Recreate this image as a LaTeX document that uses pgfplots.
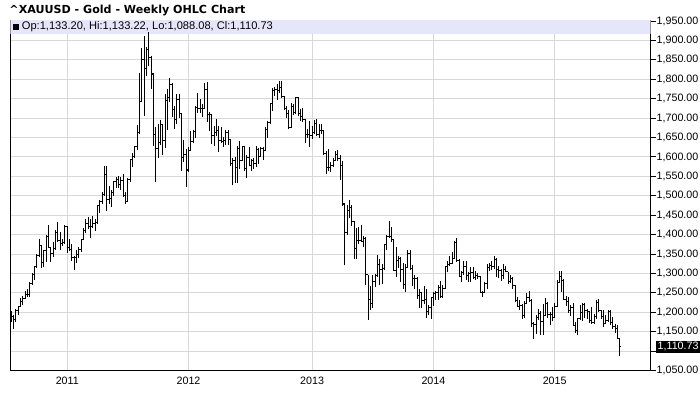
\documentclass[border=0pt]{standalone}
\usepackage{fontspec}
\setmainfont{Liberation Sans}
\newfontfamily\titlefont{DejaVu Sans}
\usepackage{pgfplots}
\usepackage{pgfplotstable}
\pgfplotsset{compat=1.18}
\definecolor{gridgray}{RGB}{216,216,216}
\definecolor{bandcol}{RGB}{230,230,250}
\pgfdeclareplotmark{ohlcopen}{\pgfpathmoveto{\pgfqpoint{-\pgfplotmarksize}{0pt}}\pgfpathlineto{\pgfqpoint{0pt}{0pt}}\pgfusepathqstroke}
\pgfdeclareplotmark{ohlcclose}{\pgfpathmoveto{\pgfqpoint{0pt}{0pt}}\pgfpathlineto{\pgfqpoint{\pgfplotmarksize}{0pt}}\pgfusepathqstroke}
\pgfplotstableread{
i O H L C
0 1193 1203 1176 1189
1 1189 1193 1157 1181
2 1181 1208 1175 1204
3 1204 1216 1192 1215
4 1215 1238 1214 1228
5 1228 1242 1220 1235
6 1235 1255 1235 1246
7 1246 1259 1239 1246
8 1246 1278 1240 1275
9 1275 1300 1270 1297
10 1297 1318 1284 1318
11 1318 1349 1313 1346
12 1346 1388 1345 1372
13 1372 1373 1314 1327
14 1327 1360 1317 1358
15 1358 1398 1330 1395
16 1395 1424 1365 1367
17 1367 1369 1330 1352
18 1352 1380 1342 1363
19 1363 1413 1360 1405
20 1405 1432 1381 1385
21 1385 1406 1360 1378
22 1378 1390 1371 1380
23 1380 1424 1376 1421
24 1421 1423 1352 1368
25 1368 1390 1358 1361
26 1361 1375 1333 1342
27 1342 1345 1309 1340
28 1340 1360 1328 1348
29 1348 1369 1340 1361
30 1361 1390 1355 1388
31 1388 1417 1385 1410
32 1410 1440 1405 1429
33 1429 1445 1415 1421
34 1421 1440 1392 1420
35 1420 1448 1418 1428
36 1428 1440 1410 1430
37 1430 1476 1428 1474
38 1474 1490 1455 1486
39 1486 1510 1480 1503
40 1503 1576 1500 1556
41 1556 1577 1462 1491
42 1491 1524 1480 1492
43 1492 1516 1470 1509
44 1509 1538 1500 1536
45 1536 1548 1520 1542
46 1542 1550 1520 1529
47 1529 1549 1515 1539
48 1539 1557 1496 1500
49 1500 1509 1478 1486
50 1486 1545 1483 1542
51 1542 1595 1535 1594
52 1594 1611 1575 1601
53 1601 1629 1600 1628
54 1628 1683 1617 1662
55 1662 1815 1660 1744
56 1744 1881 1742 1852
57 1852 1912 1705 1828
58 1828 1883 1809 1878
59 1878 1921 1835 1857
60 1857 1860 1776 1814
61 1812 1815 1627 1657
62 1657 1676 1535 1622
63 1622 1685 1598 1636
64 1636 1696 1630 1683
65 1683 1686 1605 1642
66 1642 1761 1622 1746
67 1746 1774 1670 1752
68 1752 1803 1742 1786
69 1786 1790 1703 1722
70 1722 1730 1673 1696
71 1696 1762 1685 1747
72 1747 1762 1701 1712
73 1712 1713 1563 1598
74 1598 1644 1588 1606
75 1606 1620 1523 1565
76 1567 1626 1562 1616
77 1616 1666 1616 1639
78 1639 1670 1636 1665
79 1665 1730 1650 1727
80 1727 1764 1714 1725
81 1725 1750 1712 1724
82 1724 1736 1704 1726
83 1726 1790 1725 1774
84 1774 1792 1691 1710
85 1710 1717 1667 1709
86 1709 1710 1634 1656
87 1656 1680 1627 1662
88 1662 1697 1655 1668
89 1668 1679 1612 1642
90 1642 1678 1636 1641
91 1641 1652 1625 1642
92 1642 1670 1632 1664
93 1664 1670 1632 1644
94 1644 1645 1578 1584
95 1584 1597 1527 1591
96 1591 1600 1532 1572
97 1572 1627 1533 1622
98 1622 1640 1570 1592
99 1592 1628 1590 1626
100 1626 1628 1563 1571
101 1571 1605 1547 1598
102 1598 1626 1577 1579
103 1579 1596 1564 1590
104 1590 1598 1568 1582
105 1582 1627 1575 1619
106 1619 1624 1582 1602
107 1602 1626 1600 1621
108 1621 1625 1591 1616
109 1616 1676 1616 1671
110 1671 1693 1650 1689
111 1689 1740 1684 1738
112 1738 1777 1718 1771
113 1771 1780 1756 1774
114 1774 1787 1748 1772
115 1772 1796 1766 1780
116 1780 1795 1753 1757
117 1757 1757 1721 1724
118 1724 1731 1700 1712
119 1712 1722 1672 1677
120 1677 1740 1674 1730
121 1730 1737 1709 1714
122 1714 1754 1712 1752
123 1752 1755 1705 1712
124 1712 1723 1692 1704
125 1704 1725 1690 1696
126 1696 1697 1635 1657
127 1657 1671 1650 1657
128 1657 1693 1626 1656
129 1656 1681 1645 1662
130 1662 1695 1660 1687
131 1687 1697 1653 1658
132 1658 1684 1650 1668
133 1668 1685 1660 1667
134 1667 1670 1605 1609
135 1609 1616 1555 1572
136 1572 1620 1565 1572
137 1572 1588 1562 1578
138 1578 1597 1576 1592
139 1592 1616 1590 1607
140 1607 1617 1590 1597
141 1597 1605 1540 1579
142 1579 1590 1473 1477
143 1480 1480 1321 1405
144 1405 1475 1400 1463
145 1463 1488 1443 1469
146 1469 1475 1422 1435
147 1435 1436 1338 1364
148 1364 1416 1337 1386
149 1386 1420 1376 1386
150 1386 1425 1380 1383
151 1383 1397 1367 1389
152 1389 1393 1269 1296
153 1296 1297 1180 1233
154 1233 1267 1207 1223
155 1223 1297 1211 1278
156 1278 1298 1265 1295
157 1295 1348 1292 1322
158 1322 1338 1270 1310
159 1310 1324 1274 1313
160 1313 1376 1310 1374
161 1374 1400 1360 1396
162 1396 1434 1392 1396
163 1396 1420 1381 1387
164 1387 1390 1306 1308
165 1308 1369 1292 1333
166 1333 1346 1315 1338
167 1338 1343 1277 1309
168 1309 1327 1261 1272
169 1272 1325 1251 1316
170 1316 1361 1313 1352
171 1352 1361 1309 1314
172 1314 1323 1268 1287
173 1287 1297 1260 1288
174 1288 1290 1235 1243
175 1243 1260 1211 1250
176 1250 1251 1211 1230
177 1230 1268 1222 1234
178 1234 1260 1186 1203
179 1203 1218 1193 1213
180 1213 1240 1182 1237
181 1237 1253 1217 1248
182 1248 1256 1232 1252
183 1252 1270 1232 1265
184 1265 1280 1237 1240
185 1240 1270 1239 1262
186 1262 1319 1261 1318
187 1318 1332 1305 1324
188 1324 1345 1320 1326
189 1326 1355 1324 1339
190 1339 1384 1336 1379
191 1379 1392 1330 1334
192 1334 1336 1290 1293
193 1293 1306 1277 1303
194 1303 1331 1295 1318
195 1318 1331 1283 1294
196 1294 1305 1277 1301
197 1301 1316 1278 1302
198 1302 1316 1285 1290
199 1290 1306 1282 1294
200 1294 1300 1285 1293
201 1293 1294 1250 1251
202 1251 1256 1240 1252
203 1252 1279 1249 1275
204 1275 1325 1260 1316
205 1316 1327 1307 1320
206 1320 1332 1310 1317
207 1317 1346 1312 1337
208 1337 1340 1292 1310
209 1310 1320 1287 1307
210 1307 1312 1281 1294
211 1294 1325 1285 1309
212 1309 1320 1303 1305
213 1305 1305 1273 1280
214 1280 1296 1275 1287
215 1287 1292 1260 1268
216 1268 1270 1226 1230
217 1230 1239 1214 1216
218 1216 1232 1206 1218
219 1218 1221 1183 1192
220 1192 1228 1186 1222
221 1222 1249 1222 1238
222 1238 1255 1226 1231
223 1231 1233 1161 1171
224 1171 1176 1131 1169
225 1169 1192 1145 1186
226 1186 1208 1180 1196
227 1196 1202 1142 1175
228 1175 1221 1142 1191
229 1191 1238 1191 1223
230 1223 1226 1186 1195
231 1195 1200 1167 1195
232 1195 1214 1178 1187
233 1187 1225 1185 1216
234 1216 1282 1214 1277
235 1277 1307 1276 1293
236 1293 1307 1252 1283
237 1283 1285 1232 1234
238 1234 1243 1216 1228
239 1228 1240 1197 1205
240 1205 1220 1191 1213
241 1213 1223 1164 1167
242 1167 1176 1147 1153
243 1153 1185 1142 1183
244 1183 1219 1180 1199
245 1199 1224 1178 1219
246 1219 1224 1186 1205
247 1205 1209 1183 1203
248 1203 1204 1172 1178
249 1178 1214 1170 1174
250 1174 1196 1169 1189
251 1189 1232 1183 1225
252 1225 1233 1200 1205
253 1205 1207 1182 1190
254 1190 1205 1162 1172
255 1172 1194 1170 1180
256 1180 1205 1176 1201
257 1201 1205 1168 1173
258 1173 1187 1156 1163
259 1163 1170 1147 1157
260 1157 1167 1130 1133
261 1133.20 1133.22 1088.08 1110.73
}\gold
\begin{document}
\begin{tikzpicture}[x=1bp,y=1bp]
\useasboundingbox (0,0) rectangle (700,411);
\begin{axis}[
  at={(10.3bp,40.5bp)}, anchor=south west, scale only axis,
  width=640.2bp, height=350bp,
  xmin=-0.43, xmax=274.1, ymin=1050, ymax=1951.5,
  xtick={24,76,129,181,233}, xticklabels={2011,2012,2013,2014,2015},
  ytick={1050,1100,...,1950},
  yticklabels={{1,050.00},{},{1,150.00},{1,200.00},{1,250.00},{1,300.00},{1,350.00},{1,400.00},{1,450.00},{1,500.00},{1,550.00},{1,600.00},{1,650.00},{1,700.00},{1,750.00},{1,800.00},{1,850.00},{1,900.00},{1,950.00}},
  ytick pos=right, yticklabel pos=right, tick align=outside, major tick length=5bp,
  x tick style={draw=none}, y tick style={black, line width=1bp},
  grid=major, grid style={gridgray, line width=1bp},
  axis line style={black, line width=1bp},
  tick label style={font=\fontsize{10.7bp}{12bp}\selectfont, inner sep=0pt},
  yticklabel style={anchor=west, xshift=1bp},
  xticklabel style={yshift=-1bp},
]
\fill[bandcol] (rel axis cs:0,0.9611) rectangle (rel axis cs:1,1);
\addplot[black, line width=1bp, only marks, mark=ohlcopen, mark size=1.4bp,
  mark options={line width=1bp},
  error bars/.cd, y dir=both, y explicit, error mark=none,
  error bar style={line width=1bp, black}]
  table[x=i, y=O, y error plus expr=\thisrow{H}-\thisrow{O}, y error minus expr=\thisrow{O}-\thisrow{L}] {\gold};
\addplot[black, only marks, mark=ohlcclose, mark size=1.4bp, mark options={line width=1bp}]
  table[x=i, y=C] {\gold};
\coordinate (lastv) at (axis cs:274.1,1110.73);
\end{axis}
\node[fill=black, text=white, anchor=west, inner xsep=1.5bp, inner ysep=2bp,
  font=\fontsize{10.7bp}{12bp}\selectfont] at ([xshift=5.5bp]lastv) {1,110.73};
\node[anchor=west, inner sep=0pt, font=\titlefont\bfseries\fontsize{11.1bp}{13bp}\selectfont] at (9.3,400.5)
  {\textasciicircum XAUUSD - Gold - Weekly OHLC Chart};
\node[anchor=west, inner sep=0pt, font=\fontsize{11.1bp}{12bp}\selectfont] at (13.3,384.2)
  {\rule{5.4bp}{5.4bp}\hspace{3bp}Op:1,133.20, Hi:1,133.22, Lo:1,088.08, Cl:1,110.73};
\end{tikzpicture}
\end{document}
